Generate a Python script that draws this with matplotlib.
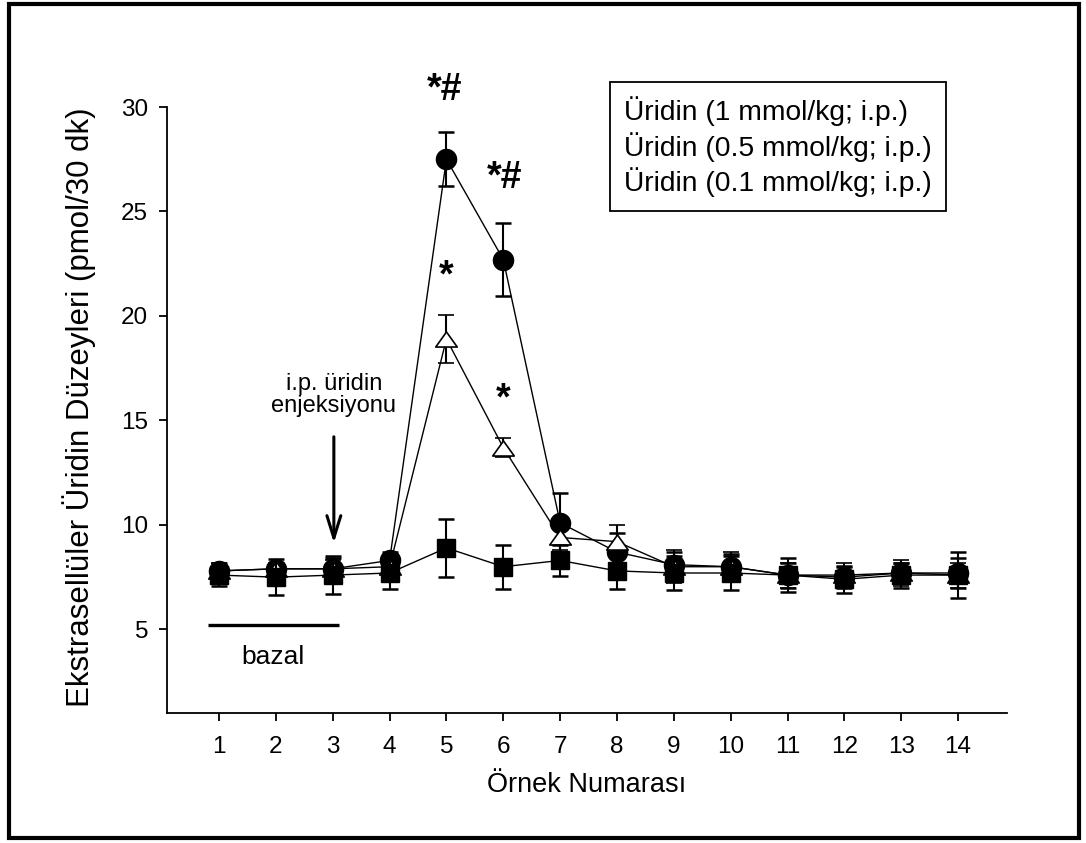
import matplotlib
matplotlib.use("Agg")
import matplotlib.pyplot as plt
from matplotlib.path import Path
from matplotlib.patches import Rectangle
from matplotlib.lines import Line2D
import numpy as np

plt.rcParams['font.family'] = ['Liberation Sans', 'DejaVu Sans']

samples = list(range(1, 15))
labels = ["Üridin (1 mmol/kg; i.p.)", "Üridin (0.5 mmol/kg; i.p.)", "Üridin (0.1 mmol/kg; i.p.)"]

dose1 = [7.8, 7.9, 7.9, 8.3, 27.5, 22.7, 10.1, 8.7, 8.1, 8.0, 7.6, 7.5, 7.7, 7.7]
dose1_err = [0.4, 0.3, 0.5, 0.4, 1.3, 1.75, 1.45, 0.9, 0.6, 0.6, 0.6, 0.5, 0.5, 0.7]

dose05 = [7.8, 7.9, 7.9, 8.0, 18.9, 13.7, 9.4, 9.2, 8.0, 8.0, 7.6, 7.6, 7.7, 7.6]
dose05_err = [0.4, 0.3, 0.4, 0.4, 1.15, 0.45, 0.6, 0.8, 0.8, 0.7, 0.6, 0.6, 0.6, 0.6]

dose01 = [7.6, 7.5, 7.6, 7.7, 8.9, 8.0, 8.3, 7.8, 7.7, 7.7, 7.6, 7.4, 7.6, 7.6]
dose01_err = [0.5, 0.85, 0.9, 0.75, 1.4, 1.05, 0.75, 0.85, 0.8, 0.8, 0.8, 0.65, 0.6, 1.1]

yticks = [5, 10, 15, 20, 25, 30]

fig = plt.figure(figsize=(10.86, 8.43), dpi=100)
ax = fig.add_axes([167/1086, 1-713/843, 840/1086, 606/843])

tri = Path([(-1, -0.7), (1, -0.7), (0, 0.7), (-1, -0.7)],
           [Path.MOVETO, Path.LINETO, Path.LINETO, Path.CLOSEPOLY])

common = dict(color='black', ecolor='black', elinewidth=1.5, capsize=6, capthick=1.8, lw=1.0, ls='-')
ax.errorbar(samples, dose1, yerr=dose1_err, marker='o', ms=14.5, mfc='black', mec='black',
            zorder=3, **common)
ax.errorbar(samples, dose05, yerr=dose05_err, marker=tri, ms=15.5, mfc='white', mec='black',
            mew=1.2, zorder=4, **common)
ax.errorbar(samples, dose01, yerr=dose01_err, marker='s', ms=13.5, mfc='black', mec='black',
            zorder=5, **common)

ax.set_xlim(0.085, 14.86)
ax.set_ylim(1, 30)
ax.set_xticks(samples)
ax.set_yticks(yticks)
ax.spines['top'].set_visible(False)
ax.spines['right'].set_visible(False)
for s in ['left', 'bottom']:
    ax.spines[s].set_linewidth(1.3)
ax.tick_params(axis='both', direction='out', length=5.5, width=1.3, labelsize=17.5)
ax.tick_params(axis='x', pad=11)
ax.tick_params(axis='y', pad=8)

ax.set_xlabel("Örnek Numarası", fontsize=19.5)
ax.xaxis.set_label_coords(0.5, -0.098)
ax.set_ylabel("Ekstrasellüler Üridin Düzeyleri (pmol/30 dk)", fontsize=22.5)
ax.yaxis.set_label_coords(-0.085, 0.505)

# legend: text only (markers absent in the reference box)
proxies = [Line2D([], [], lw=0, marker=None, visible=False) for _ in labels]
leg = ax.legend(proxies, labels, loc='upper left', bbox_to_anchor=(0.527, 1.041), fontsize=20.3,
                handlelength=0, handletextpad=0, frameon=True, fancybox=False,
                edgecolor='black', framealpha=1, borderpad=0.5, labelspacing=0.2,
                borderaxespad=0)
leg.get_frame().set_linewidth(1.3)

# significance marks
ax.text(4.96, 30.8, "*#", fontsize=27, fontweight='bold', ha='center', va='center')
ax.text(6.03, 26.6, "*#", fontsize=27, fontweight='bold', ha='center', va='center')
ax.text(5.0, 21.9, "*", fontsize=27, fontweight='bold', ha='center', va='center')
ax.text(6.0, 16.0, "*", fontsize=27, fontweight='bold', ha='center', va='center')

# injection arrow
ax.text(3.02, 16.2, "i.p. üridin\nenjeksiyonu", fontsize=17, ha='center', va='center', linespacing=1.0)
ax.annotate("", xy=(3.02, 9.0), xytext=(3.02, 14.35),
            arrowprops=dict(arrowstyle='->,head_length=1.6,head_width=0.5', lw=2.2, color='black'))

# basal line
ax.plot([0.81, 3.11], [5.2, 5.2], color='black', lw=2.4, solid_capstyle='butt')
ax.text(1.94, 3.66, "bazal", fontsize=19, ha='center', va='center')

# outer frame
fig.patches.append(Rectangle((9/1086, 1-838/843), 1070/1086, 834/843, transform=fig.transFigure,
                             fill=False, edgecolor='black', lw=3))

fig.savefig("out.png", dpi=100)
